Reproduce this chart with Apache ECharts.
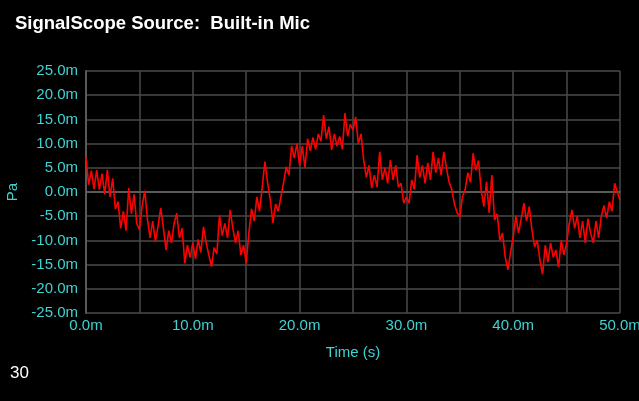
<!DOCTYPE html>
<html>
<head>
<meta charset="utf-8">
<script src="https://cdn.jsdelivr.net/npm/echarts@6/dist/echarts.min.js"></script>
<style>
  html, body { margin: 0; padding: 0; background: #000; }
  #chart { width: 639px; height: 401px; }
</style>
</head>
<body>
<div id="chart"></div>
<script>
// time step of the samples, in ms
const timeStep = 0.25;

// pressure samples in mPa, 4 per ms
const pressure = [
  7.2, 1.5, 4.4, 0.6,
  4.5, 0.5, 3.8, -0.5,
  4.6, -1.0, 2.8, -3.5,
  -2.0, -7.5, -4.0, -8.0,
  0.8, -4.5, -0.5, -6.5,
  -7.8, -3.0, 0.3, -5.5,
  -9.5, -6.0, -10.2, -7.0,
  -3.3, -7.5, -12.0, -8.0,
  -10.5, -6.5, -4.4, -9.5,
  -7.5, -14.7, -11.0, -13.5,
  -10.5, -13.8, -9.8, -12.5,
  -7.2, -10.5, -13.0, -15.4,
  -11.5, -12.8, -4.8, -9.0,
  -6.5, -9.5, -3.7, -7.5,
  -10.5, -8.0, -13.0, -11.0,
  -14.7, -8.5, -3.5, -6.0,
  -1.0, -4.0, 1.0, 6.3,
  2.0, -1.5, -6.4, -2.5,
  -4.0, -1.0, 2.0, 5.2,
  3.5, 9.5, 7.0, 10.0,
  5.5, 9.5, 5.0, 11.0,
  8.5, 11.3, 8.8, 12.0,
  10.5, 15.9, 11.0, 13.5,
  8.7, 12.0, 9.5, 11.5,
  8.8, 16.3, 11.5, 14.0,
  12.8, 15.5, 10.0, 12.0,
  6.6, 3.0, 5.5, 0.8,
  3.5, 1.0, 8.3, 2.5,
  5.0, 1.8, 6.6, 2.5,
  5.5, 1.0, 1.8, -2.3,
  -1.0, -2.3, 2.5, 0.5,
  7.6, 3.0, 5.5, 1.8,
  6.0, 2.5, 8.3, 4.0,
  7.0, 3.5, 8.3, 5.0,
  2.0, 0.5, -2.5, -4.3,
  -5.1, -1.0, 0.5, 4.0,
  2.0, 8.0, 4.5, 6.5,
  0.4, -3.0, 2.1, -4.3,
  3.5, -5.8, -4.5, -10.0,
  -8.5, -13.4, -16.1, -12.5,
  -9.2, -5.0, -8.5, -5.5,
  -2.3, -6.0, -3.0, -7.7,
  -11.3, -10.0, -14.0, -17.0,
  -11.0, -14.5, -10.5, -13.5,
  -12.0, -15.5, -10.0, -13.0,
  -10.5, -6.5, -3.7, -7.5,
  -5.0, -9.5, -6.0, -10.5,
  -5.5, -8.5, -10.5, -6.0,
  -9.5, -5.0, -2.8, -5.4,
  -2.0, -4.0, 1.8, 0.0,
  -1.7
];

const titleText = 'SignalScope Source:  Built-in Mic';
const pageNumber = '30';

const cyan = '#3fd3d3';
const gridGray = '#4a4a4a';
const font = 'Liberation Sans, Arial, sans-serif';

const seriesData = pressure.map((v, i) => [i * timeStep, v]);

const chart = echarts.init(document.getElementById('chart'));

chart.setOption({
  backgroundColor: '#000',
  animation: false,
  title: {
    text: titleText,
    left: 10,
    top: 9,
    textStyle: { color: '#fff', fontSize: 18.5, fontWeight: 'bold', fontFamily: font }
  },
  graphic: [{
    type: 'text',
    left: 10,
    top: 365,
    style: { text: pageNumber, fill: '#fff', font: '17px ' + font }
  }],
  grid: { left: 86, right: 19, top: 71, bottom: 88, containLabel: false, outerBoundsMode: 'none' },
  xAxis: {
    type: 'value',
    min: 0,
    max: 50,
    interval: 5,
    name: 'Time (s)',
    nameLocation: 'middle',
    nameGap: 32,
    nameTextStyle: { color: cyan, fontSize: 15, fontFamily: font },
    axisLine: { lineStyle: { color: '#5a5a5a', width: 2 } },
    axisTick: { show: false },
    axisLabel: {
      color: cyan,
      fontSize: 15,
      margin: 5,
      fontFamily: font,
      formatter: v => (v % 10 === 0 ? v.toFixed(1) + 'm' : '')
    },
    splitLine: { show: true, lineStyle: { color: gridGray, width: 1.5 } }
  },
  yAxis: {
    type: 'value',
    min: -25,
    max: 25,
    interval: 5,
    name: 'Pa',
    nameLocation: 'middle',
    nameGap: 66,
    nameTextStyle: { color: cyan, fontSize: 15, fontFamily: font },
    axisLine: { show: true, lineStyle: { color: '#5a5a5a', width: 2 } },
    axisTick: { show: false },
    axisLabel: {
      color: cyan,
      fontSize: 15,
      margin: 8,
      fontFamily: font,
      formatter: v => v.toFixed(1) + 'm'
    },
    splitLine: { show: true, lineStyle: { color: gridGray, width: 1.5 } }
  },
  series: [{
    type: 'line',
    data: seriesData,
    showSymbol: false,
    lineStyle: { color: '#ff0000', width: 1.6 },
    itemStyle: { color: '#ff0000' }
  }]
});
</script>
</body>
</html>
